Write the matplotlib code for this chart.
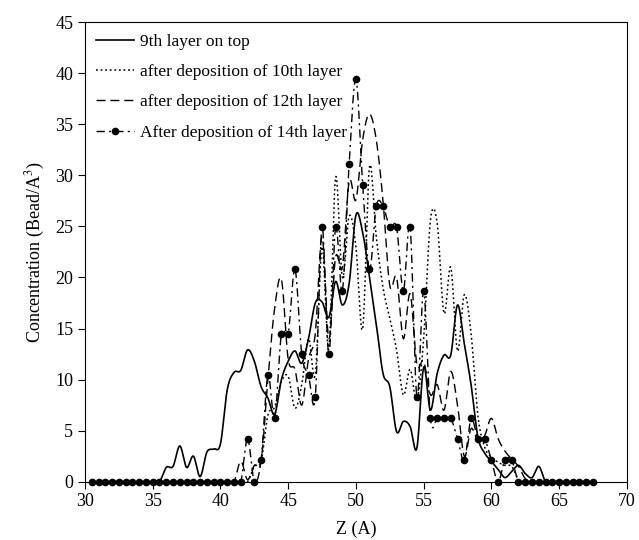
import numpy as np
import matplotlib
matplotlib.use("Agg")
import matplotlib.pyplot as plt
from matplotlib.lines import Line2D

# -----------------------------------------------------------------------------
# Bead concentration profiles along Z
# -----------------------------------------------------------------------------
z = np.arange(30.5, 68.0, 0.5)  # 0.5 A bins, 30.5 .. 67.5

layer9 = [0.0] * 11 + [
    1.4, 1.5, 3.5, 1.4, 2.5, 0.5, 2.9, 3.2, 3.7, 9.0,
    10.7, 10.9, 12.9, 11.8, 9.3, 8.2, 6.6, 10.0, 11.8, 12.8,
    11.6, 14.0, 17.5, 17.6, 16.1, 19.6, 17.3, 19.4, 26.1, 24.4,
    20.0, 15.5, 10.6, 9.3, 4.9, 5.9, 5.4, 3.3, 11.2, 7.0,
    10.6, 12.4, 12.4, 17.3, 13.5, 9.5, 4.4, 2.8, 2.0, 1.2,
    0.4, 1.0, 1.6, 0.8, 0.4, 1.5] + [0.0] * 8

layer10 = [0.0] * 24 + [
    1.5, 2.0, 6.5, 7.3, 9.8, 10.3, 7.2, 9.5, 14.0, 10.5,
    23.0, 13.0, 29.8, 20.0, 26.0, 23.0, 15.0, 30.8, 24.0, 19.0,
    16.0, 12.9, 8.5, 11.0, 8.0, 14.0, 25.6, 25.3, 16.5, 21.0,
    12.8, 18.3, 14.5, 6.5, 3.4, 2.4, 1.9, 1.6, 1.5, 0.2] + [0.0] * 11

layer12 = [0.0] * 22 + [
    2.0, 0.2, 1.6, 2.0, 10.0, 17.0, 19.8, 12.0, 11.0, 7.5,
    12.0, 14.5, 24.0, 14.0, 22.0, 21.0, 29.4, 27.6, 33.5, 36.0,
    33.5, 27.5, 19.2, 20.0, 14.0, 18.4, 11.5, 11.8, 8.5, 9.5,
    7.0, 10.8, 7.5, 2.5, 5.2, 4.0, 4.5, 6.2, 4.2, 3.0,
    2.2, 1.5, 0.3] + [0.0] * 10

layer14 = [0.0] * 23 + [
    4.2, 0.0, 2.1, 10.4, 6.2, 14.5, 14.5, 20.8, 12.5, 10.4,
    8.3, 24.9, 12.5, 24.9, 18.7, 31.1, 39.4, 29.1, 20.8, 27.0,
    27.0, 24.9, 24.9, 18.7, 24.9, 8.3, 18.7, 6.2, 6.2, 6.2,
    6.2, 4.2, 2.1, 6.2, 4.2, 4.2, 2.1, 0.0, 2.1, 2.1] + [0.0] * 12

labels = ['9th layer on top',
          'after deposition of 10th layer',
          'after deposition of 12th layer',
          'After deposition of 14th layer']


def smooth(x, y, n=24):
    """Catmull-Rom curve through the points (same as a spreadsheet 'smoothed line')."""
    x = np.asarray(x, float)
    y = np.asarray(y, float)
    px = np.concatenate([[x[0]], x, [x[-1]]])
    py = np.concatenate([[y[0]], y, [y[-1]]])
    t = np.linspace(0, 1, n, endpoint=False)[:, None]
    out = []
    for p in (px, py):
        p0, p1, p2, p3 = p[:-3], p[1:-2], p[2:-1], p[3:]
        c = 0.5 * (2 * p1 + (p2 - p0) * t + (2 * p0 - 5 * p1 + 4 * p2 - p3) * t ** 2
                   + (3 * p1 - p0 - 3 * p2 + p3) * t ** 3)
        out.append(np.append(c.T.ravel(), p[-2]))
    return out


plt.rcParams['font.family'] = ['Liberation Serif', 'DejaVu Serif']
plt.rcParams['mathtext.fontset'] = 'stix'

fig = plt.figure(figsize=(6.39, 5.40), dpi=100)
ax = fig.add_axes([0.133, 0.108, 0.848, 0.851])

styles = [
    dict(color='black', lw=1.2, ls='-'),
    dict(color='black', lw=1.1, ls=(0, (1.2, 1.8))),
    dict(color='black', lw=1.0, ls=(0, (6.5, 3.5))),
    dict(color='black', lw=1.0, ls=(0, (6, 3, 1.5, 3))),
]

for yv, st in zip([layer9, layer10, layer12, layer14], styles):
    sx, sy = smooth(z, yv)
    ax.plot(sx, sy, **st)

# markers on the 14th-layer profile
ax.plot(z, layer14, 'o', color='black', ms=4.5, clip_on=False, zorder=5)

handles = [Line2D([], [], **styles[0]),
           Line2D([], [], **styles[1]),
           Line2D([], [], **styles[2]),
           Line2D([], [], marker='o', ms=4.5, **styles[3])]
ax.legend(handles, labels, loc='upper left', frameon=False, fontsize=12.5,
          handlelength=2.2, handletextpad=0.3, labelspacing=0.82,
          borderaxespad=0.25, bbox_to_anchor=(0.0, 1.0))

ax.set_xlim(30, 70)
ax.set_ylim(0, 45)
ax.set_xticks(np.arange(30, 71, 5))
ax.set_yticks(np.arange(0, 46, 5))
ax.tick_params(direction='out', length=5, labelsize=13, width=0.8)
ax.set_xlabel('Z (A)', fontsize=13, labelpad=7)
ax.set_ylabel('Concentration (Bead/A$^3$)', fontsize=13, labelpad=6)
for sp in ax.spines.values():
    sp.set_linewidth(0.8)

fig.savefig('out.png', dpi=100)
print("Saved: out.png")
